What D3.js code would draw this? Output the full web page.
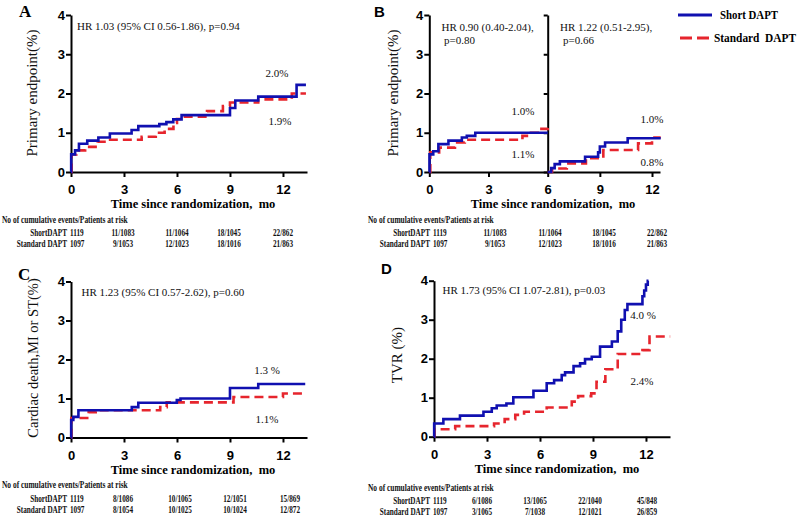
<!DOCTYPE html>
<html><head><meta charset="utf-8">
<script src="https://cdn.jsdelivr.net/npm/d3@7"></script>
<style>body{margin:0;background:#fff}</style>
</head><body><svg id="c" width="800" height="518" xmlns="http://www.w3.org/2000/svg"></svg>
<script>
// ---------------- data ----------------
const yTicks = [0, 1, 2, 3, 4];
const xTicks = [0, 3, 6, 9, 12];
const xTicksBLeft = [0, 3, 6];
const xTicksBRight = [9, 12];

// Panel A: primary endpoint (month, cumulative %)
const aShort = [[0,0],[0.01,0.45],[0.23,0.55],[0.45,0.72],[0.92,0.8],[1.55,0.88],[2.2,0.98],[3.43,1.07],[3.81,1.17],[5.0,1.22],[5.4,1.27],[5.79,1.34],[6.26,1.45],[9.0,1.63],[9.3,1.82],[10.6,1.92],[12.77,2.22],[13.3,2.22]];
const aStandard = [[0,0],[0.03,0.45],[0.3,0.55],[0.8,0.64],[1.5,0.77],[2.0,0.82],[4.0,0.9],[4.8,1.0],[5.3,1.1],[5.8,1.25],[6.0,1.35],[6.3,1.41],[7.7,1.55],[8.6,1.68],[9.0,1.77],[10.6,1.85],[12.5,2.0],[13.3,2.0]];
// Panel B: landmark 0-6 and 6-12
const bShortEarly = [[0,0],[0.01,0.45],[0.2,0.53],[0.46,0.71],[0.97,0.8],[1.65,0.88],[1.9,0.92],[2.33,1.0],[6,1.0]];
const bStandardEarly = [[0,0],[0.05,0.5],[0.5,0.62],[1.3,0.75],[1.8,0.82],[4.72,0.92],[5.15,1.0],[5.5,1.1],[6,1.12]];
const bShortLate = [[6,0],[6.2,0.1],[6.4,0.2],[6.7,0.27],[8.15,0.39],[8.9,0.5],[9.0,0.65],[9.3,0.75],[10.6,0.86],[12.5,0.86]];
const bStandardLate = [[6,0],[6.25,0.09],[7.1,0.22],[8.2,0.35],[9.2,0.56],[11.2,0.73],[12.0,0.88],[12.5,0.88]];
// Panel C: cardiac death, MI or ST
const cShort = [[0,0],[0.01,0.45],[0.13,0.53],[0.42,0.7],[3.44,0.78],[3.81,0.89],[5.99,0.96],[6.2,1.0],[9.0,1.27],[10.6,1.37],[13.26,1.37]];
const cStandard = [[0,0],[0.02,0.5],[1.0,0.65],[1.4,0.7],[5.05,0.78],[5.42,0.9],[9.2,1.04],[12.0,1.13],[13.26,1.13]];
// Panel D: TVR
const dShort = [[0,0],[0.01,0.34],[0.53,0.45],[1.47,0.54],[2.8,0.64],[3.27,0.73],[3.55,0.8],[4.1,0.85],[4.49,1.01],[5.63,1.18],[6.38,1.37],[6.8,1.45],[7.23,1.58],[7.42,1.65],[7.9,1.81],[8.27,1.88],[8.55,1.99],[8.93,2.05],[9.4,2.31],[10.07,2.44],[10.4,2.7],[10.6,3.0],[10.8,3.25],[10.95,3.4],[11.8,3.6],[11.9,3.75],[12.0,3.9],[12.1,4.0],[12.14,4.0]];
const dStandard = [[0,0],[0.02,0.19],[1.2,0.27],[3.4,0.34],[4.0,0.45],[4.6,0.56],[5.1,0.64],[6.38,0.75],[7.8,0.9],[8.16,1.04],[8.9,1.11],[9.2,1.41],[9.7,1.73],[10.4,2.12],[11.8,2.22],[12.2,2.57],[13.37,2.57]];

const seriesNames = ["Short DAPT", "Standard  DAPT"];
const tableHeader = "No of cumulative events/Patients at risk";
const rowLabels = ["ShortDAPT", "Standard DAPT"];
const aTableShort = ["1119", "11/1083", "11/1064", "18/1045", "22/862"];
const aTableStandard = ["1097", "9/1053", "12/1023", "18/1016", "21/863"];
const bTableShort = ["1119", "11/1083", "11/1064", "18/1045", "22/862"];
const bTableStandard = ["1097", "9/1053", "12/1023", "18/1016", "21/863"];
const cTableShort = ["1119", "8/1086", "10/1065", "12/1051", "15/869"];
const cTableStandard = ["1097", "8/1054", "10/1025", "10/1024", "12/872"];
const dTableShort = ["1119", "6/1086", "13/1065", "22/1040", "45/848"];
const dTableStandard = ["1097", "3/1065", "7/1038", "12/1021", "26/859"];

// ---------------- drawing ----------------
const svg = d3.select("#c");
svg.append("rect").attr("width", 800).attr("height", 518).attr("fill", "#fff");
const BLUE = "#1010b0", RED = "#e6252d";
const SERIF = "'Liberation Serif','Times New Roman',serif";
const SANS = "'Liberation Sans',Arial,sans-serif";

function styleAxis(g) {
  g.select(".domain").attr("stroke", "#000").attr("stroke-width", 2);
  g.selectAll(".tick line").attr("stroke", "#000").attr("stroke-width", 2);
  g.selectAll(".tick text").attr("font-family", SANS).attr("font-weight", "bold")
    .attr("font-size", 13).attr("fill", "#000");
}
function yAxis(x0, y, labels) {
  const ax = d3.axisLeft(y).tickValues(yTicks).tickSize(labels ? 5 : 4).tickSizeOuter(0).tickPadding(1)
    .tickFormat(labels ? d3.format("d") : () => "");
  svg.append("g").attr("transform", `translate(${x0},0)`).call(ax).call(styleAxis);
}
function xAxis(x, y0, ticks) {
  const ax = d3.axisBottom(x).tickValues(ticks).tickSize(5).tickSizeOuter(0).tickPadding(8).tickFormat(d3.format("d"));
  svg.append("g").attr("transform", `translate(0,${y0})`).call(ax).call(styleAxis);
}
function curve(x, y, data, color, dashed) {
  const line = d3.line().x(d => x(d[0])).y(d => y(d[1])).curve(d3.curveStepAfter);
  svg.append("path").datum(data).attr("d", line).attr("fill", "none")
    .attr("stroke", color).attr("stroke-width", 2.6)
    .attr("stroke-dasharray", dashed ? "9,5" : null);
}
function text(x, y, s, o) {
  o = o || {};
  const t = svg.append("text").attr("x", x).attr("y", y).text(s)
    .attr("font-family", o.family || SERIF).attr("font-size", o.size || 11)
    .attr("font-weight", o.weight || "normal").attr("fill", o.fill || "#111")
    .attr("text-anchor", o.anchor || "start");
  if (o.rotate) t.attr("transform", `rotate(-90,${x},${y})`);
  return t;
}
function xTitle(cx, y) {
  text(cx, y, "Time since randomization,  mo", {size: 12.5, weight: "bold", anchor: "middle", fill: "#000"})
    .style("white-space", "pre").attr("xml:space", "preserve");
}
function tbl(hx, hy, labelEnd, firstX, cols, rowYs, rowsData) {
  const put = (x, y, s, anchor, size) => svg.append("text")
    .attr("transform", `translate(${x},${y}) scale(0.76,1)`).text(s)
    .attr("font-family", SERIF).attr("font-weight", "bold").attr("font-size", size || 9.5)
    .attr("fill", "#111").attr("text-anchor", anchor);
  put(hx, hy, tableHeader, "start", 9.8);
  rowsData.forEach((row, i) => {
    put(labelEnd, rowYs[i], rowLabels[i], "end");
    put(firstX, rowYs[i], row[0], "start");
    row.slice(1).forEach((v, j) => put(cols[j], rowYs[i], v, "middle"));
  });
}

// ---- Panel A ----
{
  const x = d3.scaleLinear().domain([0, 13.36]).range([71, 307]);
  const y = d3.scaleLinear().domain([0, 4]).range([172, 15]);
  yAxis(71, y, true); xAxis(x, 172, xTicks);
  curve(x, y, aStandard, RED, true); curve(x, y, aShort, BLUE, false);
  text(19, 17, "A", {size: 17, weight: "bold", fill: "#000"});
  text(77, 30, "HR 1.03 (95% CI 0.56-1.86), p=0.94");
  text(277, 77, "2.0%", {anchor: "middle"});
  text(280, 125, "1.9%", {anchor: "middle"});
  text(37, 93, "Primary endpoint(%)", {size: 15, anchor: "middle", rotate: true});
  xTitle(193, 208);
  tbl(2, 223, 67, 70, [123, 177, 229, 283], [236, 247], [aTableShort, aTableStandard]);
}
// ---- Panel B ----
{
  const xl = d3.scaleLinear().domain([0, 6]).range([429.3, 547.7]);
  const xr = d3.scaleLinear().domain([6, 12.46]).range([547.7, 660]);
  const y = d3.scaleLinear().domain([0, 4]).range([172, 15]);
  xAxis(xl, 172, xTicksBLeft); xAxis(xr, 172, xTicksBRight);
  yAxis(429.3, y, true); yAxis(547.7, y, false);
  curve(xl, y, bStandardEarly, RED, true); curve(xl, y, bShortEarly, BLUE, false);
  curve(xr, y, bStandardLate, RED, true); curve(xr, y, bShortLate, BLUE, false);
  text(374, 17, "B", {family: SANS, size: 15, weight: "bold", fill: "#000"});
  text(441.5, 31, "HR 0.90 (0.40-2.04),");
  text(444, 44, "p=0.80");
  text(560, 31, "HR 1.22 (0.51-2.95),");
  text(563, 44, "p=0.66");
  text(523, 115, "1.0%", {anchor: "middle"});
  text(523, 158, "1.1%", {anchor: "middle"});
  text(652, 123, "1.0%", {anchor: "middle"});
  text(652, 166, "0.8%", {anchor: "middle"});
  text(398, 93, "Primary endpoint(%)", {size: 15, anchor: "middle", rotate: true});
  xTitle(553, 208);
  tbl(368, 223, 430, 433, [495, 550, 604, 657], [236, 247], [bTableShort, bTableStandard]);
}
// ---- Panel C ----
{
  const x = d3.scaleLinear().domain([0, 13.36]).range([71, 307]);
  const y = d3.scaleLinear().domain([0, 4]).range([437.5, 281.5]);
  yAxis(71, y, true); xAxis(x, 437.5, xTicks);
  curve(x, y, cStandard, RED, true); curve(x, y, cShort, BLUE, false);
  text(18, 280, "C", {size: 17, weight: "bold", fill: "#000"});
  text(81.5, 296, "HR 1.23 (95% CI 0.57-2.62), p=0.60");
  text(267, 374, "1.3 %", {anchor: "middle"});
  text(267, 423, "1.1%", {anchor: "middle"});
  text(38, 358, "Cardiac death,MI or ST(%)", {size: 14.5, anchor: "middle", rotate: true});
  xTitle(193, 474);
  tbl(2, 488, 67, 70, [123, 180, 235, 290], [502, 513], [cTableShort, cTableStandard]);
}
// ---- Panel D ----
{
  const x = d3.scaleLinear().domain([0, 13.36]).range([434, 670]);
  const y = d3.scaleLinear().domain([0, 4]).range([436.7, 280.7]);
  yAxis(434, y, true); xAxis(x, 436.7, xTicks);
  curve(x, y, dStandard, RED, true); curve(x, y, dShort, BLUE, false);
  text(381, 274, "D", {family: SANS, size: 15, weight: "bold", fill: "#000"});
  text(442.5, 294, "HR 1.73 (95% CI 1.07-2.81), p=0.03");
  text(643, 319, "4.0 %", {anchor: "middle"});
  text(642, 385, "2.4%", {anchor: "middle"});
  text(402, 355, "TVR (%)", {size: 15, anchor: "middle", rotate: true});
  xTitle(557, 473);
  tbl(368, 491, 430, 433, [482, 535, 590, 647], [504, 515], [dTableShort, dTableStandard]);
}
// ---- Legend ----
svg.append("line").attr("x1", 678).attr("x2", 712).attr("y1", 15).attr("y2", 15)
  .attr("stroke", BLUE).attr("stroke-width", 3);
svg.append("line").attr("x1", 680).attr("x2", 709).attr("y1", 38).attr("y2", 38)
  .attr("stroke", RED).attr("stroke-width", 3).attr("stroke-dasharray", "12,5");
text(720, 19, seriesNames[0], {size: 12, weight: "bold", fill: "#000"})
  .attr("textLength", 58).attr("lengthAdjust", "spacingAndGlyphs");
text(714, 42, seriesNames[1], {size: 12, weight: "bold", fill: "#000"})
  .attr("xml:space", "preserve").attr("textLength", 82).attr("lengthAdjust", "spacingAndGlyphs");
</script></body></html>
